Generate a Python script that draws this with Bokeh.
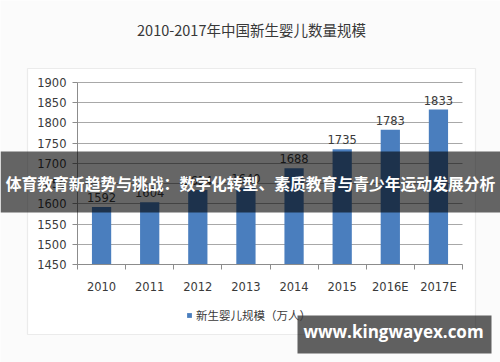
from bokeh.plotting import figure
from bokeh.models import (Range1d, FixedTicker, BoxAnnotation, Label, Legend, LegendItem,
                          ColumnDataSource, LabelSet)
from bokeh.core.properties import value
from bokeh.embed import file_html
from bokeh.resources import INLINE

# ---- data ----
categories = ["2010", "2011", "2012", "2013", "2014", "2015", "2016E", "2017E"]
births = [1592, 1604, 1634, 1640, 1688, 1735, 1783, 1833]
y_ticks = [1450, 1500, 1550, 1600, 1650, 1700, 1750, 1800, 1850, 1900]
title_text = "2010-2017年中国新生婴儿数量规模"
series_name = "新生婴儿规模（万人）"
banner_text = "体育教育新趋势与挑战：数字化转型、素质教育与青少年运动发展分析"
watermark_text = "www.kingwayex.com"

W, H = 500, 362
FONT = "DejaVu Sans"
CJK = "Noto Sans CJK SC"
TXT = "#3a3a3a"
AX = "#8c8c8c"

# plot area in pixels (canvas coords)
PL, PR, PT, PB = 77, 462, 82, 264
ymin, ymax = y_ticks[0], y_ticks[-1]
n = len(categories)
xs_px = (PR - PL) / n
ys_px = (PB - PT) / (ymax - ymin)
x_range = Range1d(-PL / xs_px, n + (W - PR) / xs_px)
y_range = Range1d(ymin - (H - PB) / ys_px, ymax + PT / ys_px)

p = figure(width=W, height=H, output_backend="svg", toolbar_location=None,
           x_range=x_range, y_range=y_range,
           min_border=0, min_border_left=0, min_border_right=0,
           min_border_top=0, min_border_bottom=0)
p.background_fill_color = "#fbfbfb"
p.border_fill_color = "#fbfbfb"
p.outline_line_color = None

# outer chart frame
p.add_layout(BoxAnnotation(left=27, right=475, top=68, bottom=334,
                           left_units="canvas", right_units="canvas",
                           top_units="canvas", bottom_units="canvas",
                           fill_color="white", fill_alpha=1.0,
                           line_color="#c4c4c4", line_width=1.2, level="image"))

xs = [i + 0.5 for i in range(n)]
src = ColumnDataSource(dict(x=xs, top=births, lab=[str(v) for v in births]))
bars = p.vbar(x="x", top="top", bottom=ymin, width=0.4, source=src,
              fill_color="#4a7ebe", line_color=None)

labels = LabelSet(x="x", y="top", text="lab", source=src, text_align="center",
                  text_baseline="bottom", y_offset=5, text_font=value(FONT),
                  text_font_size=value("11.5px"), text_color=TXT)
p.add_layout(labels)

# axes (fixed inside the full-canvas frame)
p.xaxis.fixed_location = ymin
p.xaxis.bounds = (0, n)
p.xaxis.ticker = FixedTicker(ticks=xs, minor_ticks=list(range(n + 1)))
p.xaxis.major_label_overrides = {x: c for x, c in zip(xs, categories)}
p.xaxis.major_tick_line_color = None
p.xaxis.minor_tick_in = 0
p.xaxis.minor_tick_out = 5
p.xaxis.minor_tick_line_color = AX
p.xaxis.axis_line_color = AX
p.xaxis.major_label_text_font = FONT
p.xaxis.major_label_text_font_size = "11.5px"
p.xaxis.major_label_text_color = TXT
p.xaxis.major_label_standoff = 9

p.yaxis.fixed_location = 0
p.yaxis.bounds = (ymin, ymax)
p.yaxis.ticker = FixedTicker(ticks=y_ticks)
p.yaxis.minor_tick_line_color = None
p.yaxis.major_tick_in = 0
p.yaxis.major_tick_out = 5
p.yaxis.major_tick_line_color = AX
p.yaxis.axis_line_color = AX
p.yaxis.major_label_text_font = FONT
p.yaxis.major_label_text_font_size = "11.5px"
p.yaxis.major_label_text_color = TXT
p.yaxis.major_label_standoff = 6

p.xgrid.grid_line_color = None
p.ygrid.ticker = FixedTicker(ticks=y_ticks)
p.ygrid.cross_bounds = (0, n)
p.ygrid.grid_line_color = "#a8a8a8"

# title
p.add_layout(Label(x=251, y=29, x_units="canvas", y_units="canvas", text=title_text,
                   text_align="center", text_baseline="middle", text_font=CJK,
                   text_font_size="14.5px", text_color="#383838"))

# legend
legend = Legend(items=[LegendItem(label=series_name, renderers=[bars])],
                location=(186, 39), orientation="horizontal",
                glyph_width=6, glyph_height=6, padding=0, margin=0, spacing=0,
                label_standoff=4, border_line_color=None, background_fill_alpha=0,
                label_text_font=CJK, label_text_font_size="11.5px", label_text_color=TXT)
p.add_layout(legend)

# banner overlay
p.add_layout(BoxAnnotation(left=0, right=500, top=151, bottom=212,
                           left_units="canvas", right_units="canvas",
                           top_units="canvas", bottom_units="canvas",
                           fill_color="black", fill_alpha=0.6, line_color=None,
                           level="overlay"))
p.add_layout(Label(x=250, y=183, x_units="canvas", y_units="canvas", text=banner_text,
                   text_align="center", text_baseline="middle", text_font=CJK,
                   text_font_style="bold", text_font_size="15.8px", text_color="white",
                   level="overlay"))

# watermark
p.add_layout(BoxAnnotation(left=297, right=491, top=315, bottom=353,
                           left_units="canvas", right_units="canvas",
                           top_units="canvas", bottom_units="canvas",
                           fill_color="black", fill_alpha=0.62, line_color=None,
                           level="overlay"))
p.add_layout(Label(x=393, y=331, x_units="canvas", y_units="canvas", text=watermark_text,
                   text_align="center", text_baseline="middle", text_font="Open Sans",
                   text_font_style="bold", text_font_size="17px", text_color="white",
                   level="overlay"))

open("out.html", "w").write(file_html(p, INLINE))
